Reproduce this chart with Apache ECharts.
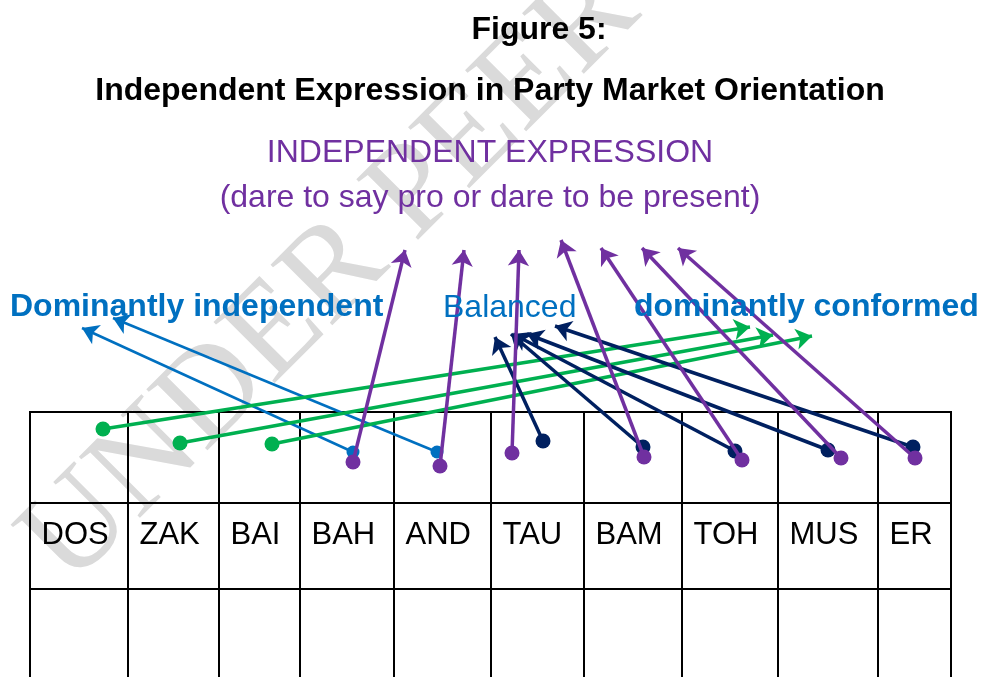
<!DOCTYPE html>
<html>
<head>
<meta charset="utf-8">
<title>Figure 5</title>
<script src="https://cdn.jsdelivr.net/npm/echarts@6/dist/echarts.min.js"></script>
<style>
  html, body { margin: 0; padding: 0; background: #fff; }
  #chart { width: 983px; height: 677px; }
</style>
</head>
<body>
<div id="chart"></div>
<script>
// diagram units = page pixels, x to the right, y downwards
var parties = ['DOS', 'ZAK', 'BAI', 'BAH', 'AND', 'TAU', 'BAM', 'TOH', 'MUS', 'ER']
var colEdges = [30, 128, 219, 300, 394, 491, 584, 682, 778, 878, 951]
var rowEdges = [412, 503, 589, 677]
var labelRowY = 535

// dominantly independent (blue): BAH, AND
var blueFrom = [[353, 452], [437, 452]]
var blueTo = [[82, 328], [113, 318]]
// dominantly conformed (green): DOS, ZAK, BAI
var greenFrom = [[103, 429], [180, 443], [272, 444]]
var greenTo = [[750, 327], [773, 335], [812, 336]]
// balanced (navy): TAU, BAM, TOH, MUS, ER
var navyFrom = [[543, 441], [643, 447], [735, 451], [828, 450], [913, 447]]
var navyTo = [[495, 337], [511, 334], [513, 334], [527, 334], [555, 326]]
// independent expression (purple): BAH, AND, TAU, BAM, TOH, MUS, ER
var purpleFrom = [[353, 462], [440, 466], [512, 453], [644, 457], [742, 460], [841, 458], [915, 458]]
var purpleTo = [[405, 250], [464, 250], [519, 250], [561, 240], [601, 248], [642, 248], [678, 248]]

var chart = echarts.init(document.getElementById('chart'))

function arrows(from, to) {
  return from.map(function (p, i) {
    return { coords: [p, to[i]] }
  })
}

function tableLines() {
  var out = []
  var top = rowEdges[0]
  var bottom = rowEdges[rowEdges.length - 1]
  colEdges.forEach(function (x) {
    out.push({ coords: [[x, top - 1], [x, bottom]] })
  })
  rowEdges.slice(0, 3).forEach(function (y) {
    out.push({ coords: [[colEdges[0] - 1, y], [colEdges[colEdges.length - 1] + 1, y]] })
  })
  return out
}

function arrowSeries(from, to, color, width, z) {
  return {
    type: 'lines',
    coordinateSystem: 'cartesian2d',
    symbol: ['none', 'arrow'],
    symbolSize: [14, 16],
    lineStyle: { color: color, width: width, opacity: 1, curveness: 0 },
    z: z,
    silent: true,
    data: arrows(from, to)
  }
}

function dotSeries(points, color, size, z) {
  return {
    type: 'scatter',
    symbol: 'circle',
    symbolSize: size,
    itemStyle: { color: color, opacity: 1 },
    z: z,
    silent: true,
    data: points
  }
}

var font = 'Arial, "Liberation Sans", sans-serif'

chart.setOption({
  backgroundColor: '#ffffff',
  animation: false,
  grid: { left: 0, right: 0, top: 0, bottom: 0 },
  xAxis: { type: 'value', min: 0, max: 983, show: false },
  yAxis: { type: 'value', min: 0, max: 677, inverse: true, show: false },
  graphic: [
    {
      type: 'text',
      x: 92, y: 610,
      rotation: 45 * Math.PI / 180,
      z: 0,
      silent: true,
      style: {
        text: 'UNDER PEER REVIEW',
        font: '132px "Liberation Serif", "Times New Roman", serif',
        fill: '#dadada',
        textAlign: 'left',
        textVerticalAlign: 'bottom'
      }
    },
    {
      type: 'text', x: 539, y: 30, z: 10,
      style: { text: 'Figure 5:', font: 'bold 32px ' + font, fill: '#000', textAlign: 'center', textVerticalAlign: 'middle' }
    },
    {
      type: 'text', x: 490, y: 91, z: 10,
      style: { text: 'Independent Expression in Party Market Orientation', font: 'bold 32px ' + font, fill: '#000', textAlign: 'center', textVerticalAlign: 'middle' }
    },
    {
      type: 'text', x: 490, y: 153, z: 10,
      style: { text: 'INDEPENDENT EXPRESSION', font: '32px ' + font, fill: '#7030A0', textAlign: 'center', textVerticalAlign: 'middle' }
    },
    {
      type: 'text', x: 490, y: 198, z: 10,
      style: { text: '(dare to say pro or dare to be present)', font: '32px ' + font, fill: '#7030A0', textAlign: 'center', textVerticalAlign: 'middle' }
    },
    {
      type: 'text', x: 10, y: 307, z: 10,
      style: { text: 'Dominantly independent', font: 'bold 32px ' + font, fill: '#0070C0', textAlign: 'left', textVerticalAlign: 'middle' }
    },
    {
      type: 'text', x: 443, y: 308, z: 10,
      style: { text: 'Balanced', font: '32px ' + font, fill: '#0070C0', textAlign: 'left', textVerticalAlign: 'middle' }
    },
    {
      type: 'text', x: 634, y: 307, z: 10,
      style: { text: 'dominantly conformed', font: 'bold 32px ' + font, fill: '#0070C0', textAlign: 'left', textVerticalAlign: 'middle' }
    }
  ],
  series: [
    {
      type: 'lines',
      coordinateSystem: 'cartesian2d',
      symbol: 'none',
      lineStyle: { color: '#000', width: 2, opacity: 1 },
      z: 3,
      silent: true,
      data: tableLines()
    },
    {
      type: 'scatter',
      symbolSize: 1,
      itemStyle: { color: 'rgba(0,0,0,0)' },
      z: 3,
      silent: true,
      label: {
        show: true,
        position: 'right',
        distance: 11,
        formatter: function (p) { return p.data[2] },
        color: '#000',
        opacity: 1,
        fontFamily: font,
        fontSize: 31
      },
      data: parties.map(function (name, i) { return [colEdges[i], labelRowY, name] })
    },
    arrowSeries(blueFrom, blueTo, '#0070C0', 2.5, 4),
    dotSeries(blueFrom, '#0070C0', 13, 5),
    arrowSeries(greenFrom, greenTo, '#00B050', 3.5, 6),
    dotSeries(greenFrom, '#00B050', 15, 6),
    arrowSeries(navyFrom, navyTo, '#002060', 3.5, 7),
    dotSeries(navyFrom, '#002060', 15, 8),
    arrowSeries(purpleFrom, purpleTo, '#7030A0', 3.5, 9),
    dotSeries(purpleFrom, '#7030A0', 15, 10)
  ]
})
</script>
</body>
</html>
